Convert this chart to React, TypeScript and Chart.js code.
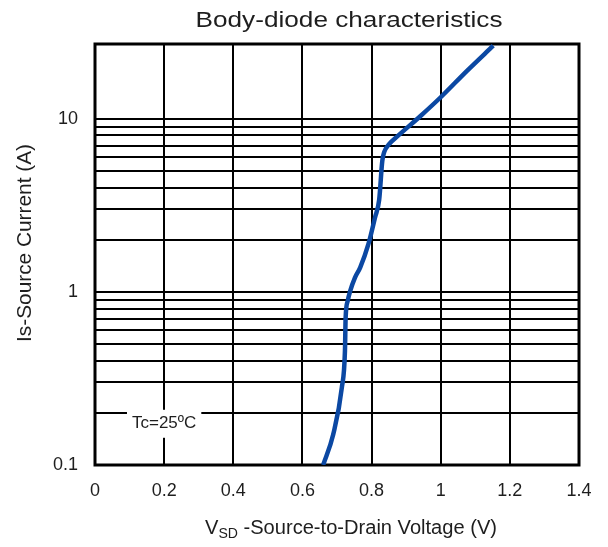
import React, { useEffect, useRef } from "react";
import { Chart, registerables } from "chart.js";

Chart.register(...registerables);

// ---- Data ----
const V_SD = [0.66, 0.689, 0.714, 0.723, 0.725, 0.731, 0.738, 0.752, 0.767, 0.791, 0.81, 0.822, 0.831, 0.837, 0.85, 0.876, 0.94, 1.0, 1.076, 1.152];
const I_S = [0.1, 0.15, 0.28, 0.456, 0.71, 0.887, 1.01, 1.21, 1.38, 1.89, 2.69, 3.4, 5.7, 6.45, 7.1, 7.95, 10.3, 13.3, 18.9, 26.4];

const X_TICKS = [0, 0.2, 0.4, 0.6, 0.8, 1, 1.2, 1.4];
const X_TICK_LABELS = ["0", "0.2", "0.4", "0.6", "0.8", "1", "1.2", "1.4"];
const Y_GRID = [0.1, 0.2, 0.3, 0.4, 0.5, 0.6, 0.7, 0.8, 0.9, 1, 2, 3, 4, 5, 6, 7, 8, 9, 10];
const Y_LABEL_VALUES = [0.1, 1, 10];
const Y_LABEL_TEXT = ["0.1", "1", "10"];

const TITLE = "Body-diode characteristics";
const Y_TITLE = "Is-Source Current (A)";
const X_TITLE_MAIN = "V";
const X_TITLE_SUB = "SD";
const X_TITLE_REST = " -Source-to-Drain Voltage (V)";
const TC_LABEL = "Tc=25ºC";
const TC_X = 0.2;
const TC_Y = 0.173;

const FONT = '"Liberation Sans", Arial, Helvetica, sans-serif';
const TEXT_COLOR = "#1e1e1e";

function drawStretched(ctx: CanvasRenderingContext2D, text: string, cx: number, baseline: number, size: number, targetW: number) {
  ctx.font = `${size}px ${FONT}`;
  const w = ctx.measureText(text).width;
  const s = targetW / w;
  ctx.save();
  ctx.translate(cx, baseline);
  ctx.scale(s, 1);
  ctx.textAlign = "center";
  ctx.textBaseline = "alphabetic";
  ctx.fillText(text, 0, 0);
  ctx.restore();
}

const decor = {
  id: "decor",
  beforeDatasetsDraw(chart: any) {
    const { ctx, chartArea: a, scales } = chart;
    ctx.save();
    ctx.strokeStyle = "#000";
    ctx.lineWidth = 3;
    ctx.strokeRect(a.left, a.top, a.right - a.left, a.bottom - a.top);
    // Tc label
    const x = scales.x.getPixelForValue(TC_X);
    const y = scales.y.getPixelForValue(TC_Y);
    ctx.font = `17px ${FONT}`;
    const w = ctx.measureText(TC_LABEL).width;
    ctx.fillStyle = "#fff";
    ctx.fillRect(x - w / 2 - 5, y - 14, w + 10, 28);
    ctx.fillStyle = TEXT_COLOR;
    ctx.textAlign = "center";
    ctx.textBaseline = "middle";
    ctx.fillText(TC_LABEL, x, y);
    ctx.restore();
  },
  afterDraw(chart: any) {
    const { ctx } = chart;
    ctx.save();
    ctx.fillStyle = TEXT_COLOR;
    // main title
    drawStretched(ctx, TITLE, 349, 27, 22.5, 307);
    // y title
    ctx.save();
    ctx.translate(31, 243);
    ctx.rotate(-Math.PI / 2);
    drawStretched(ctx, Y_TITLE, 0, 0, 20, 198);
    ctx.restore();
    // x title with subscript
    ctx.font = `20px ${FONT}`;
    const w1 = ctx.measureText(X_TITLE_MAIN).width;
    const w3 = ctx.measureText(X_TITLE_REST).width;
    ctx.font = `14px ${FONT}`;
    const w2 = ctx.measureText(X_TITLE_SUB).width;
    const total = w1 + w2 + w3;
    const target = 292;
    const s = target / total;
    const baseline = 534;
    ctx.save();
    ctx.translate(351 - target / 2, baseline);
    ctx.scale(s, 1);
    ctx.textAlign = "left";
    ctx.textBaseline = "alphabetic";
    ctx.font = `20px ${FONT}`;
    ctx.fillText(X_TITLE_MAIN, 0, 0);
    ctx.font = `14px ${FONT}`;
    ctx.fillText(X_TITLE_SUB, w1, 4);
    ctx.font = `20px ${FONT}`;
    ctx.fillText(X_TITLE_REST, w1 + w2, 0);
    ctx.restore();
    ctx.restore();
  },
};

export default function App() {
  const ref = useRef<HTMLCanvasElement | null>(null);
  useEffect(() => {
    if (!ref.current) return;
    const points = V_SD.map((v, i) => ({ x: v, y: I_S[i] }));
    const chart = new Chart(ref.current, {
      type: "line",
      data: {
        datasets: [
          {
            data: points,
            borderColor: "#0b48a3",
            borderWidth: 4.5,
            pointRadius: 0,
            fill: false,
            cubicInterpolationMode: "monotone",
          },
        ],
      },
      options: {
        animation: false,
        responsive: false,
        layout: { padding: { top: 44, right: 29, bottom: 0, left: 0 } },
        plugins: { legend: { display: false }, tooltip: { enabled: false }, title: { display: false } },
        scales: {
          x: {
            type: "linear",
            min: 0,
            max: 1.4,
            afterBuildTicks: (scale: any) => {
              scale.ticks = X_TICKS.map((v) => ({ value: v }));
            },
            afterFit: (scale: any) => {
              scale.height = 82;
            },
            ticks: {
              autoSkip: false,
              maxRotation: 0,
              padding: 15,
              color: TEXT_COLOR,
              font: { family: FONT, size: 18 },
              callback: (_v: any, i: number) => X_TICK_LABELS[i],
            },
            grid: { color: "#000", lineWidth: 2, drawTicks: false },
            border: { display: false },
          },
          y: {
            type: "logarithmic",
            min: 0.1,
            max: 27,
            afterBuildTicks: (scale: any) => {
              scale.ticks = Y_GRID.map((v) => ({ value: v }));
            },
            afterFit: (scale: any) => {
              scale.width = 95;
            },
            ticks: {
              autoSkip: false,
              padding: 17,
              color: TEXT_COLOR,
              font: { family: FONT, size: 18 },
              callback: (v: any) => {
                const k = Y_LABEL_VALUES.findIndex((t) => Math.abs(t - Number(v)) < 1e-9);
                return k >= 0 ? Y_LABEL_TEXT[k] : "";
              },
            },
            grid: { color: "#000", lineWidth: 2, drawTicks: false },
            border: { display: false },
          },
        },
      } as any,
      plugins: [decor],
    });
    return () => chart.destroy();
  }, []);
  return (
    <div style={{ position: "fixed", left: 0, top: 0, width: 608, height: 547, background: "#fff" }}>
      <canvas ref={ref} width={608} height={547} style={{ display: "block" }} />
    </div>
  );
}
